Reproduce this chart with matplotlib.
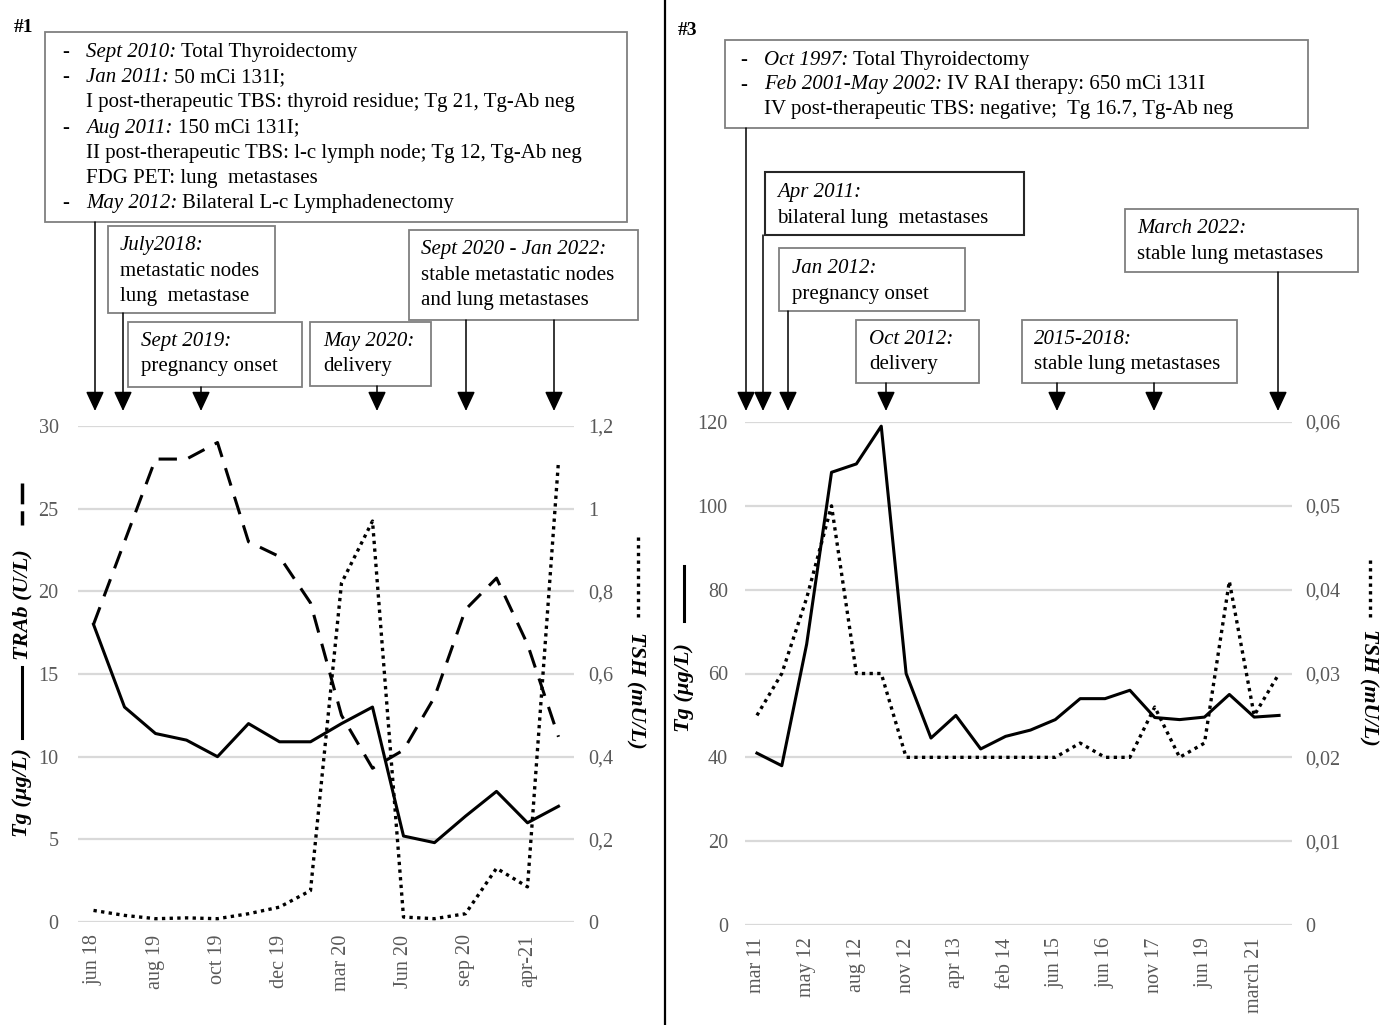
import numpy as np
import matplotlib.pyplot as plt
from matplotlib.lines import Line2D
from matplotlib.patches import Rectangle

plt.rcParams['font.family'] = ['Liberation Serif', 'DejaVu Serif']

# ---- case #1 ----
c1_ticks = ['jun 18', 'aug 19', 'oct 19', 'dec 19', 'mar 20', 'Jun 20', 'sep 20', 'apr-21']
c1_tg = [18, 13, 11.4, 11, 10, 12, 10.9, 10.9, 12, 13, 5.2, 4.8, 6.4, 7.9, 6, 7]
c1_trab = [18, 23, 28, 28, 29, 23, 22.1, 19.3, 12.5, 9.3, 10.4, 13.6, 18.9, 20.8, 16.8, 11.2]
c1_tsh = [0.028, 0.016, 0.008, 0.01, 0.008, 0.02, 0.036, 0.076, 0.82, 0.97,
          0.012, 0.008, 0.02, 0.13, 0.085, 1.115]
c1_left_ticks = [0, 5, 10, 15, 20, 25, 30]
c1_right_ticks = [0, 0.2, 0.4, 0.6, 0.8, 1.0, 1.2]
c1_right_labels = ['0', '0,2', '0,4', '0,6', '0,8', '1', '1,2']

# ---- case #3 ----
c3_ticks = ['mar 11', 'may 12', 'aug 12', 'nov 12', 'apr 13', 'feb 14', 'jun 15',
            'jun 16', 'nov 17', 'jun 19', 'march 21']
c3_tg = [41, 38, 67, 108, 110, 119, 60, 44.6, 50, 42, 45, 46.5, 49, 54, 54, 56,
         49.5, 49, 49.6, 55, 49.6, 50]
c3_tsh = [0.025, 0.030, 0.039, 0.050, 0.030, 0.030, 0.020, 0.020, 0.020, 0.020, 0.020,
          0.020, 0.020, 0.0217, 0.020, 0.020, 0.026, 0.020, 0.0217, 0.041, 0.025, 0.030]
c3_left_ticks = [0, 20, 40, 60, 80, 100, 120]
c3_right_ticks = [0, 0.01, 0.02, 0.03, 0.04, 0.05, 0.06]
c3_right_labels = ['0', '0,01', '0,02', '0,03', '0,04', '0,05', '0,06']

# annotation boxes: (x0, y0, x1, y1, text x, first baseline, line gap, lines)
# each line is a list of (text, style); a leading '-' is a bullet
c1_boxes = [
    (45, 32, 627, 222, 86, 57, 25.2, [
        [('-', 'normal'), ('Sept 2010:', 'italic'), ('Total Thyroidectomy', 'normal')],
        [('-', 'normal'), ('Jan 2011:', 'italic'), ('50 mCi 131I;', 'normal')],
        [('I post-therapeutic TBS: thyroid residue; Tg 21, Tg-Ab neg', 'normal')],
        [('-', 'normal'), ('Aug 2011:', 'italic'), ('150 mCi 131I;', 'normal')],
        [('II post-therapeutic TBS: l-c lymph node; Tg 12, Tg-Ab neg', 'normal')],
        [('FDG PET: lung  metastases', 'normal')],
        [('-', 'normal'), ('May 2012:', 'italic'), ('Bilateral L-c Lymphadenectomy', 'normal')],
    ]),
    (108, 226, 275, 313, 120, 250, 25.5, [
        [('July2018:', 'italic')], [('metastatic nodes', 'normal')], [('lung  metastase', 'normal')]]),
    (128, 322, 302, 387, 141, 346, 25.5, [
        [('Sept 2019:', 'italic')], [('pregnancy onset', 'normal')]]),
    (310, 322, 431, 386, 323, 346, 25.5, [
        [('May 2020:', 'italic')], [('delivery', 'normal')]]),
    (409, 230, 638, 320, 421, 254, 25.5, [
        [('Sept 2020 - Jan 2022:', 'italic')], [('stable metastatic nodes', 'normal')],
        [('and lung metastases', 'normal')]]),
]
c3_boxes = [
    (725, 40, 1308, 128, 764, 65, 24.5, [
        [('-', 'normal'), ('Oct 1997:', 'italic'), ('Total Thyroidectomy', 'normal')],
        [('-', 'normal'), ('Feb 2001-May 2002:', 'italic'), ('IV RAI therapy: 650 mCi 131I', 'normal')],
        [('IV post-therapeutic TBS: negative;  Tg 16.7, Tg-Ab neg', 'normal')],
    ]),
    (765, 172, 1024, 235, 777, 197, 25.5, [
        [('Apr 2011:', 'italic')], [('bilateral lung  metastases', 'normal')]]),
    (779, 248, 965, 311, 792, 273, 25.5, [
        [('Jan 2012:', 'italic')], [('pregnancy onset', 'normal')]]),
    (856, 320, 979, 383, 869, 344, 25.5, [
        [('Oct 2012:', 'italic')], [('delivery', 'normal')]]),
    (1022, 320, 1237, 383, 1034, 344, 25.5, [
        [('2015-2018:', 'italic')], [('stable lung metastases', 'normal')]]),
    (1125, 209, 1358, 272, 1137, 233, 25.5, [
        [('March 2022:', 'italic')], [('stable lung metastases', 'normal')]]),
]
# arrows: (x, start y)
c1_arrows = [(95, 222), (123, 313), (201, 387), (377, 386), (466, 320), (554, 320)]
c3_arrows = [(746, 128), (763, 235), (788, 311), (886, 383), (1057, 383), (1154, 383), (1278, 272)]

W, H = 1389, 1025
fig = plt.figure(figsize=(W / 100, H / 100), dpi=100)

tick_color = '#595959'
box_fs = 15
solid = dict(color='black', lw=2.2, linestyle='-')
dashed = dict(color='black', lw=2.2, linestyle=(0, (6, 3.8)))
dotted = dict(color='black', lw=2.4, linestyle=(0, (1, 1.3)))


def style_axes(ax, axr, n, ticks, lticks, rticks, rlabels, lpad, rpad):
    ax.set_xlim(-0.5, n - 0.5)
    ax.set_ylim(lticks[0], lticks[-1])
    axr.set_ylim(rticks[0], rticks[-1])
    ax.set_yticks(lticks)
    ax.set_yticklabels([str(t) for t in lticks])
    axr.set_yticks(rticks)
    axr.set_yticklabels(rlabels)
    ax.set_xticks(np.arange(n)[::2])
    ax.set_xticklabels(ticks, rotation=90, va='top', ha='center')
    ax.yaxis.grid(True, color='#d9d9d9', lw=1.6)
    ax.set_axisbelow(True)
    for a in (ax, axr):
        for s in a.spines.values():
            s.set_visible(False)
        a.tick_params(length=0, labelsize=14.5, colors=tick_color)
    ax.tick_params(axis='y', pad=lpad)
    ax.tick_params(axis='x', pad=9)
    axr.tick_params(axis='y', pad=rpad)


# case #1 chart
ax1 = fig.add_axes([78 / W, 1 - 922 / H, 496 / W, 496 / H])
ax1r = ax1.twinx()
x1 = np.arange(len(c1_tg))
ax1.plot(x1, c1_tg, **solid)
ax1.plot(x1, c1_trab, **dashed)
ax1r.plot(x1, c1_tsh, **dotted)
style_axes(ax1, ax1r, len(c1_tg), c1_ticks, c1_left_ticks, c1_right_ticks, c1_right_labels, 14, 10)

# case #3 chart
ax3 = fig.add_axes([744.5 / W, 1 - 925 / H, 547 / W, 503 / H])
ax3r = ax3.twinx()
x3 = np.arange(len(c3_tg))
ax3.plot(x3, c3_tg, **solid)
ax3r.plot(x3, c3_tsh, **dotted)
style_axes(ax3, ax3r, len(c3_tg), c3_ticks, c3_left_ticks, c3_right_ticks, c3_right_labels, 12, 10)

# overlay in pixel coordinates for boxes, arrows and axis titles
ov = fig.add_axes([0, 0, 1, 1])
ov.set_xlim(0, W)
ov.set_ylim(H, 0)
ov.axis('off')
renderer = fig.canvas.get_renderer()


def draw_box(box, edge='#7f7f7f', elw=1.3):
    x0, y0, x1_, y1_, tx, by, gap, lines = box
    ov.add_patch(Rectangle((x0, y0), x1_ - x0, y1_ - y0, fill=False, ec=edge, lw=elw))
    for i, segs in enumerate(lines):
        y = by + i * gap
        x = tx
        for txt, st in segs:
            if txt == '-':
                ov.text(tx - 24, y, '-', fontsize=box_fs, va='baseline', ha='left')
                continue
            t = ov.text(x, y, txt, fontsize=box_fs, style=st, va='baseline', ha='left')
            x += t.get_window_extent(renderer).width + 5


for b in c1_boxes:
    draw_box(b)
for i, b in enumerate(c3_boxes):
    if i == 1:
        draw_box(b, edge='#262626', elw=1.5)
    else:
        draw_box(b)

for x, y0 in c1_arrows + c3_arrows:
    ov.annotate('', xy=(x, 411), xytext=(x, y0),
                arrowprops=dict(arrowstyle='-|>,head_length=0.6,head_width=0.28',
                                color='black', lw=1.1, mutation_scale=20,
                                shrinkA=0, shrinkB=0))

# divider between panels
ov.plot([665, 665], [0, H], color='black', lw=1.6)

ov.text(14, 32, '#1', fontsize=14, weight='bold', va='baseline')
ov.text(678, 35, '#3', fontsize=14, weight='bold', va='baseline')

# axis titles with line-style samples
lab = dict(fontsize=16, weight='bold', style='italic', ha='center', va='center')
ov.text(22, 793, 'Tg (µg/L)', rotation=90, **lab)
ov.add_line(Line2D([22, 22], [667, 738], **solid))
ov.text(22, 605, 'TRAb (U/L)', rotation=90, **lab)
ov.add_line(Line2D([22, 22], [483, 525], color='black', lw=2.5, linestyle=(0, (6, 2))))
ov.text(636, 690, 'TSH (mU/L)', rotation=270, **lab)
ov.add_line(Line2D([638, 638], [537, 618], **dotted))

ov.text(684, 688, 'Tg (µg/L)', rotation=90, **lab)
ov.add_line(Line2D([684, 684], [566, 621], **solid))
ov.text(1369, 687, 'TSH (mU/L)', rotation=270, **lab)
ov.add_line(Line2D([1370, 1370], [560, 617], **dotted))

fig.savefig('out.png', dpi=100)
